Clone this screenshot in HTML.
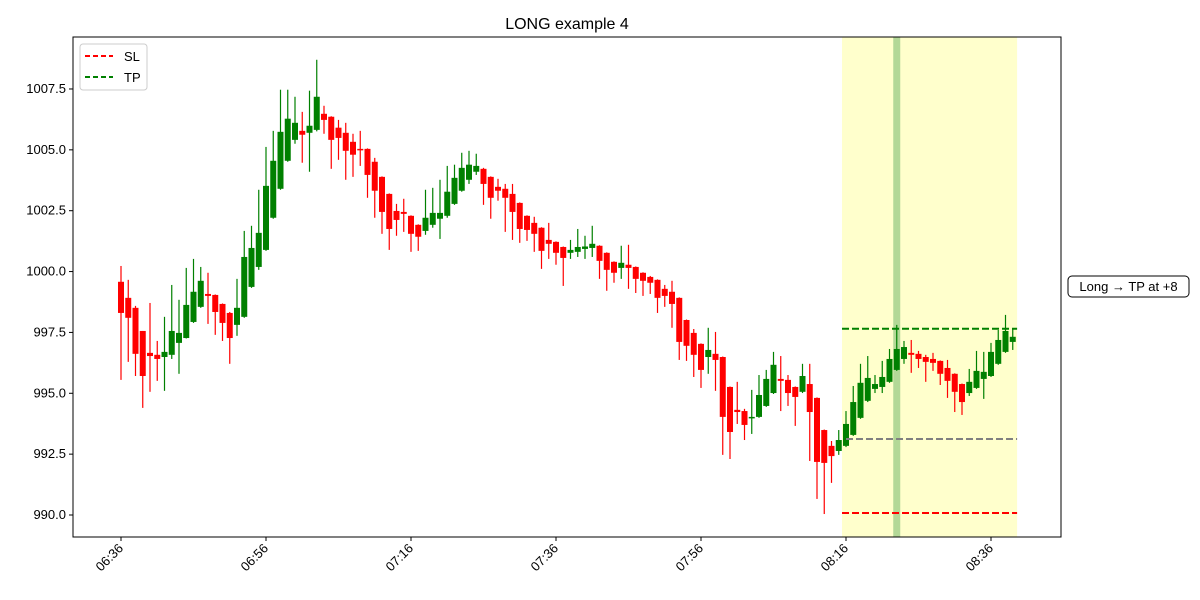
<!DOCTYPE html>
<html><head><meta charset="utf-8"><style>
body{margin:0;background:#fff;}
svg{display:block;font-family:"Liberation Sans","DejaVu Sans",sans-serif;}
</style></head><body>
<svg id="chart" width="1200" height="600" viewBox="0 0 1200 600" xmlns="http://www.w3.org/2000/svg">
<rect width="1200" height="600" fill="#fff"/>
<text x="567" y="29" font-size="16" text-anchor="middle">LONG example 4</text>
<g id="plot"></g>
</svg>
<script>
const opens=[999.58,998.92,998.51,997.56,996.66,996.58,996.49,996.58,997.07,997.27,997.93,998.55,999.08,999.04,998.67,998.30,997.81,998.14,999.37,1000.19,1000.89,1002.21,1003.40,1004.55,1005.41,1005.78,1005.70,1005.82,1006.48,1006.36,1005.91,1005.70,1005.33,1005.04,1005.04,1004.51,1003.89,1003.19,1002.49,1002.45,1002.29,1001.92,1001.67,1001.92,1002.17,1002.29,1002.78,1003.32,1003.77,1004.10,1004.22,1003.89,1003.48,1003.40,1003.19,1002.82,1002.29,1002.00,1001.80,1001.30,1001.22,1001.01,1000.77,1000.81,1000.93,1000.97,1001.06,1000.77,1000.40,1000.15,1000.28,1000.19,999.95,999.78,999.66,999.29,999.17,998.92,998.01,997.48,997.03,996.49,996.62,996.49,995.26,994.32,994.27,993.99,994.03,994.48,995.01,995.59,995.55,995.26,995.06,995.38,994.81,993.49,992.84,992.63,992.84,993.29,993.99,994.69,995.18,995.26,995.47,995.96,996.41,996.66,996.62,996.49,996.41,996.33,996.04,995.80,995.38,995.01,995.22,995.59,995.71,996.21,996.70,997.11];
const highs=[1000.23,999.66,998.59,997.56,998.71,997.15,998.14,999.45,998.84,1000.15,1000.52,1000.19,999.95,999.06,998.69,998.34,999.70,1001.67,1001.88,1003.36,1005.12,1005.78,1007.47,1007.47,1007.18,1006.56,1007.43,1008.70,1006.81,1006.38,1006.23,1006.11,1005.66,1005.78,1005.06,1004.67,1003.91,1003.21,1002.78,1002.99,1002.31,1001.94,1003.36,1003.44,1003.77,1004.34,1004.39,1004.88,1004.96,1004.84,1004.26,1003.91,1003.81,1003.60,1003.60,1002.84,1002.31,1002.25,1001.82,1002.00,1001.24,1001.03,1001.30,1001.75,1001.47,1001.88,1001.08,1000.79,1000.42,1001.06,1001.10,1000.21,999.97,999.82,999.68,999.45,999.62,998.94,998.03,997.64,997.05,997.69,997.52,996.51,995.28,995.47,994.36,995.14,995.75,995.96,996.70,996.53,995.75,995.28,996.21,996.21,994.83,993.51,993.04,993.49,994.27,995.30,996.21,996.53,995.75,996.33,996.82,997.81,997.15,997.19,996.74,996.58,996.66,996.35,996.37,995.82,995.40,996.00,996.74,996.70,997.07,997.60,998.22,997.64];
const lows=[995.55,996.29,995.71,994.40,995.06,995.51,995.10,996.41,995.80,997.25,997.89,998.51,997.85,997.40,997.15,996.21,997.36,998.10,999.33,1000.07,1000.85,1002.17,1003.36,1004.51,1005.25,1004.47,1004.10,1005.76,1005.66,1004.22,1004.59,1003.77,1003.89,1004.34,1003.03,1002.21,1001.55,1000.89,1001.47,1001.63,1000.81,1000.85,1001.51,1001.80,1001.34,1002.21,1002.74,1003.28,1003.60,1003.97,1002.74,1002.17,1002.91,1001.63,1001.30,1001.18,1001.26,1000.81,1000.11,1000.52,1000.28,999.41,1000.52,1000.60,1000.52,1000.60,999.70,999.21,999.54,999.70,999.29,999.12,999.00,999.08,998.30,998.55,997.69,996.37,996.33,995.67,995.22,995.80,995.10,992.47,992.30,993.74,993.08,993.33,993.99,994.44,994.97,994.27,994.48,993.66,995.01,992.22,990.66,990.04,991.32,992.47,992.79,993.25,993.95,994.64,995.01,995.01,995.43,995.92,996.21,995.84,996.04,995.47,995.92,995.34,994.81,994.23,994.11,994.89,995.18,994.77,995.67,996.17,996.66,996.78];
const closes=[998.30,998.10,996.62,995.71,996.53,996.41,996.70,997.56,997.48,998.63,999.17,999.62,999.00,998.34,997.89,997.27,998.51,1000.60,1000.97,1001.59,1003.52,1004.55,1005.74,1006.28,1006.11,1005.62,1005.99,1007.18,1006.23,1005.41,1005.49,1004.96,1004.80,1005.00,1003.97,1003.32,1002.45,1001.75,1002.12,1002.37,1001.55,1001.43,1002.21,1002.41,1002.41,1003.28,1003.85,1004.26,1004.39,1004.34,1003.60,1003.03,1003.32,1003.03,1002.45,1001.75,1001.71,1001.55,1000.85,1001.14,1000.77,1000.56,1000.89,1001.01,1001.03,1001.14,1000.44,1000.07,999.95,1000.36,1000.15,999.70,999.62,999.54,998.92,999.00,998.67,997.11,996.95,996.58,995.96,996.78,996.37,994.03,993.41,994.23,993.70,994.03,994.93,995.59,996.17,995.51,995.01,994.85,995.71,994.23,992.18,992.14,992.42,993.08,993.74,994.64,995.43,995.63,995.38,995.67,996.41,996.82,996.90,996.58,996.41,996.29,996.25,995.80,995.51,995.06,994.64,995.47,995.92,995.88,996.70,997.19,997.56,997.32];
const xTickIdx=[0,20,40,60,80,100,120];
const xTickLabels=["06:36","06:56","07:16","07:36","07:56","08:16","08:36"];
const yTicks=[990.0,992.5,995.0,997.5,1000.0,1002.5,1005.0,1007.5];
const slLevel=990.08, tpLevel=997.65, entryLevel=993.12;
const spanStart=99.45, spanEnd=123.6, entryStart=100, markIdx=107;

const NS="http://www.w3.org/2000/svg";
const L=73,R=1061,T=37,B=537;
const xs=i=>121+7.25*i;
const ys=p=>515-(p-990)*(60.86/2.5);
const g=document.getElementById('plot');
function mk(tag,attrs,parent){const e=document.createElementNS(NS,tag);for(const k in attrs)e.setAttribute(k,attrs[k]);(parent||g).appendChild(e);return e;}

let e;
e=mk('rect',{x:xs(spanStart),y:T,width:xs(spanEnd)-xs(spanStart),height:B-T,fill:'#ffffcc'});


e=mk('rect',{x:xs(markIdx)-3.5,y:T,width:7,height:B-T,fill:'#b3d897'});



for(let i=0;i<opens.length;i++){
  const up=closes[i]>=opens[i];const col=up?'#008000':'#ff0000';
  const cg=mk('g',{});
  
  
  mk('line',{x1:xs(i),x2:xs(i),y1:ys(highs[i]),y2:ys(lows[i]),stroke:col,'stroke-width':1.2},cg);
  const top=ys(Math.max(opens[i],closes[i])),bot=ys(Math.min(opens[i],closes[i]));
  mk('rect',{x:xs(i)-3,y:top,width:6,height:Math.max(bot-top,1.5),fill:col},cg);
}

function hline(p,x1,x2,col,name){
  const l=mk('line',{x1:x1,x2:x2,y1:ys(p),y2:ys(p),stroke:col,'stroke-width':2,'stroke-dasharray':'7,3'});
  
  
}
hline(tpLevel,xs(spanStart),xs(spanEnd),'#008000','tp-line');
hline(entryLevel,xs(entryStart),xs(spanEnd),'#808080','entry-line');
hline(slLevel,xs(spanStart),xs(spanEnd),'#ff0000','sl-line');

e=mk('rect',{x:L,y:T,width:R-L,height:B-T,fill:'none',stroke:'#000','stroke-width':1});



yTicks.forEach(v=>{
  const y=ys(v);
  mk('line',{x1:L-4,x2:L,y1:y,y2:y,stroke:'#000'});
  const t=mk('text',{x:L-7,y:y+4,'font-size':13,'text-anchor':'end'});
  t.textContent=v.toFixed(1);
  
  
});
xTickIdx.forEach((idx,k)=>{
  const x=xs(idx);
  mk('line',{x1:x,x2:x,y1:B,y2:B+4,stroke:'#000'});
  const t=mk('text',{x:x+3,y:B+12,'font-size':13,'text-anchor':'end',transform:`rotate(-45 ${x+3} ${B+12})`});
  t.textContent=xTickLabels[k];
  
  
});

const lg=mk('g',{});


mk('rect',{x:80,y:44,width:67,height:46,rx:3,fill:'#fff',stroke:'#ccc'},lg);
mk('line',{x1:85,x2:113,y1:56,y2:56,stroke:'#ff0000','stroke-width':2,'stroke-dasharray':'5,3'},lg);
let lt=mk('text',{x:124,y:61,'font-size':13},lg);lt.textContent='SL';
mk('line',{x1:85,x2:113,y1:77,y2:77,stroke:'#008000','stroke-width':2,'stroke-dasharray':'5,3'},lg);
lt=mk('text',{x:124,y:82,'font-size':13},lg);lt.textContent='TP';

const ag=mk('g',{});


mk('rect',{x:1068,y:276,width:121,height:21,rx:4,fill:'#fff',stroke:'#000'},ag);
lt=mk('text',{x:1128.5,y:291,'font-size':13,'text-anchor':'middle'},ag);lt.textContent='Long → TP at +8';
</script>
</body></html>
